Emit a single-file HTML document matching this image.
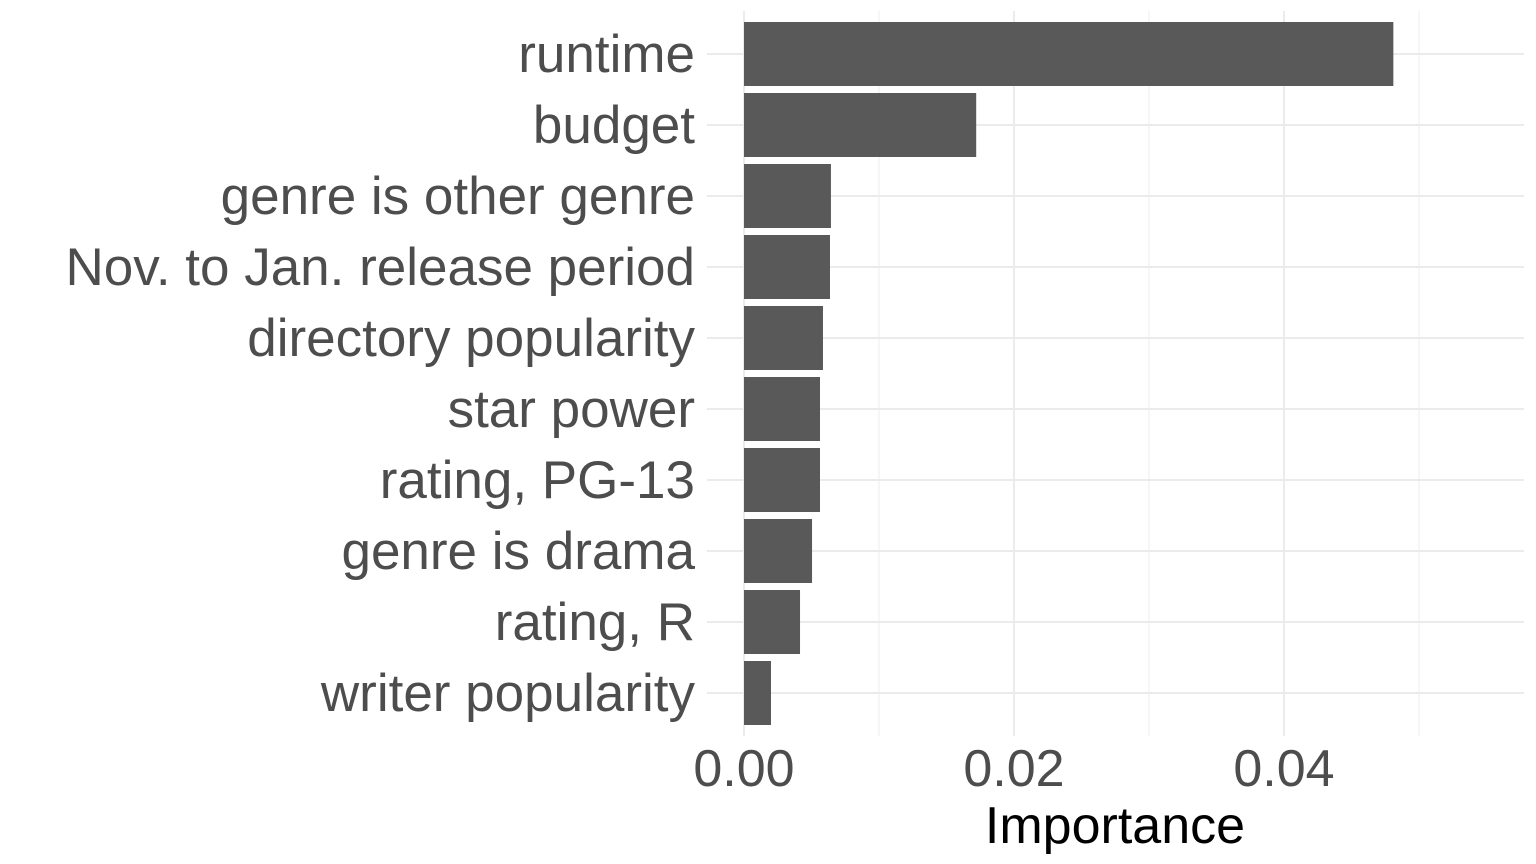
<!DOCTYPE html>
<html><head><meta charset="utf-8"><style>
body{margin:0;background:#fff;}
svg{display:block;font-family:"Liberation Sans",Arial,sans-serif;}
</style></head><body>
<svg id="chart" width="1536" height="864" viewBox="0 0 1536 864">
<g id="grid"></g>
<g id="bars"></g>
<g id="ylabels"></g>
<g id="xlabels"></g>
<text x="1115" y="843" font-size="52" fill="#000" text-anchor="middle">Importance</text>
</svg>
<script>
const categories = ["runtime","budget","genre is other genre","Nov. to Jan. release period","directory popularity","star power","rating, PG-13","genre is drama","rating, R","writer popularity"];
const importance = [0.0481,0.0172,0.00644,0.00637,0.00585,0.00563,0.00563,0.00504,0.00415,0.0020];
const majorTicks = [0,0.02,0.04];
const tickLabels = ["0.00","0.02","0.04"];
const minorTicks = [0.01,0.03,0.05];

const NS="http://www.w3.org/2000/svg";
const x0=744, xs=13500, panelL=707, panelR=1524, panelT=11, panelB=736;
const band=71, top0=54;
const X=v=>x0+v*xs;
const Y=i=>top0+i*band;
function mk(tag,attrs,parent){const e=document.createElementNS(NS,tag);for(const k in attrs)e.setAttribute(k,attrs[k]);parent.appendChild(e);return e;}
const grid=document.getElementById('grid'),bars=document.getElementById('bars'),yl=document.getElementById('ylabels'),xl=document.getElementById('xlabels');
minorTicks.forEach(t=>{
  const l=mk('line',{x1:X(t),x2:X(t),y1:panelT,y2:panelB,stroke:'#f0f0f0','stroke-width':1.2},grid);
  
  
});
majorTicks.forEach((t,i)=>{
  const l=mk('line',{x1:X(t),x2:X(t),y1:panelT,y2:panelB,stroke:'#ebebeb','stroke-width':2},grid);
  
  
  const tx=mk('text',{x:X(t),y:786,'font-size':52,fill:'#4d4d4d','text-anchor':'middle'},xl);
  tx.textContent=tickLabels[i];
  
  
});
categories.forEach((c,i)=>{
  const l=mk('line',{x1:panelL,x2:panelR,y1:Y(i),y2:Y(i),stroke:'#ebebeb','stroke-width':2},grid);
  
  
  const r=mk('rect',{x:X(0),y:Y(i)-32,width:X(importance[i])-X(0),height:64,fill:'#595959'},bars);
  
  
  const t=mk('text',{x:695,y:Y(i)+18,'font-size':53,fill:'#4d4d4d','text-anchor':'end'},yl);
  t.textContent=c;
  
  
});
</script>
</body></html>
